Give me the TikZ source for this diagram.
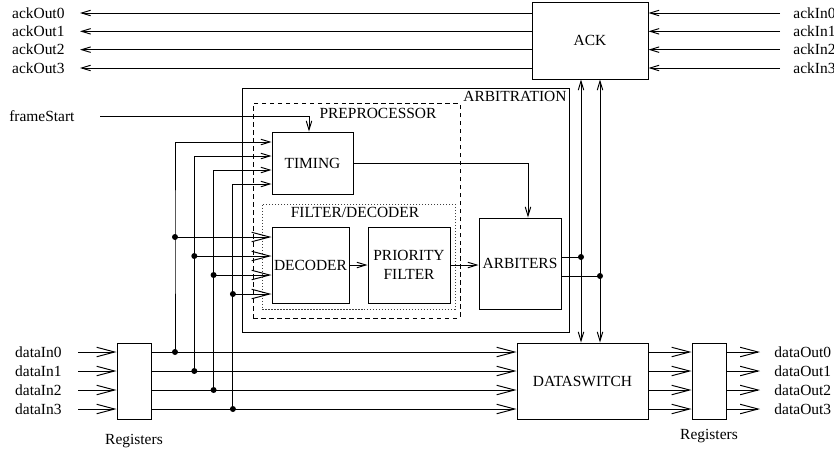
\documentclass[tikz,border=0pt]{standalone}
\usepackage{fontspec}
\setmainfont{Liberation Serif}
\usetikzlibrary{arrows.meta,positioning,calc}

\begin{document}
\begin{tikzpicture}[x=0.02cm,y=-0.02cm,
  font=\fontsize{8.8}{10.8}\selectfont,
  line width=0.55pt,node distance=0pt,
  blk/.style={draw,inner sep=0pt},
  sarr/.style={-{Straight Barb[length=0.18cm,width=0.11cm]}},
  barr/.style={-{Straight Barb[length=0.36cm,width=0.19cm]}},
  lbl/.style={inner sep=0pt},
  jn/.style={circle,fill,inner sep=0pt,minimum size=0.12cm}]
\useasboundingbox (0,0) rectangle (834,451);
% frames
\node[blk,minimum width=6.56cm,minimum height=4.88cm] (arb) at (406,210) {};
\node[blk,dash pattern=on 0.09cm off 0.07cm,minimum width=4.14cm,minimum height=4.30cm] (prep) at (356.5,210.5) {};
\node[blk,black!75,dash pattern=on 0.03cm off 0.03cm,minimum width=3.86cm,minimum height=2.10cm] (filt) at (358.5,256.5) {};
\node[lbl,anchor=north east,inner sep=0.07cm] at (arb.north east) {ARBITRATION};
\node[lbl,below=0.1cm of prep.north,xshift=0.43cm] {PREPROCESSOR};
\node[lbl,below=0.07cm of filt.north,xshift=-0.07cm] {FILTER/DECODER};
% blocks
\node[blk,minimum width=2.32cm,minimum height=1.54cm] (ack) at (590,40.5) {ACK};
\node[blk,minimum width=1.62cm,minimum height=1.24cm] (timing) at (312.5,163) {TIMING};
\node[blk,minimum width=1.54cm,minimum height=1.52cm] (decoder) at (310.5,265) {DECODER};
\node[blk,align=center,minimum width=1.64cm,minimum height=1.52cm] (prio) at (409,265) {PRIORITY\\FILTER};
\node[blk,minimum width=1.64cm,minimum height=1.82cm] (arbiters) at (520,263.5) {ARBITERS};
\node[blk,minimum width=2.62cm,minimum height=1.52cm] (dsw) at (582.5,381) {DATASWITCH};
\node[blk,minimum width=0.68cm,minimum height=1.52cm] (regin) at (134,381) {};
\node[blk,minimum width=0.68cm,minimum height=1.52cm] (regout) at (709,381) {};
\node[lbl,below=0.28cm of regin] {Registers};
\node[lbl,below=0.18cm of regout] {Registers};
% ack lines
\foreach \i in {0,...,3}{
  \pgfmathsetmacro{\ya}{13+18.33*\i}
  \coordinate (ao\i) at (80,\ya);
  \coordinate (ai\i) at (780,\ya);
  \node[lbl,left=0.3cm of ao\i] {ackOut\i};
  \node[lbl,right=0.26cm of ai\i] {ackIn\i};
  \draw[sarr] (ack.west |- ao\i) -- (ao\i);
  \draw[sarr] (ai\i) -- (ack.east |- ai\i);
}
% data lines and taps
\foreach \i in {0,...,3}{
  \pgfmathsetmacro{\yd}{352+19*\i}
  \pgfmathsetmacro{\xd}{175+19.3*\i}
  \pgfmathsetmacro{\yt}{142+14*\i}
  \pgfmathsetmacro{\yc}{237+19*\i}
  \coordinate (di\i) at (78,\yd);
  \coordinate (do\i) at (760,\yd);
  \coordinate (ty\i) at (0,\yt);
  \node[lbl,left=0.32cm of di\i] {dataIn\i};
  \node[lbl,right=0.28cm of do\i] {dataOut\i};
  \draw[barr] (di\i) -- (regin.west |- di\i);
  \draw[barr] (regin.east |- di\i) -- (dsw.west |- di\i);
  \draw[barr] (dsw.east |- di\i) -- (regout.west |- di\i);
  \draw[barr] (regout.east |- di\i) -- (do\i);
  \node[jn] (tap\i) at (\xd,\yd) {};
  \node[jn] (dtap\i) at (\xd,\yc) {};
  \draw[sarr] (tap\i.center) -- (dtap\i.center) |- (timing.west |- ty\i);
  \draw[barr] (dtap\i.center) -- (decoder.west |- dtap\i);
}
% frame start and internal paths
\coordinate (fs) at (100,116);
\node[lbl,left=0.5cm of fs] {frameStart};
\draw[sarr] (fs) -| ([xshift=-0.07cm]timing.north);
\draw[sarr] (timing.east) -| ([xshift=0.16cm]arbiters.north);
\draw[sarr] (decoder.east) -- (prio.west);
\draw[sarr] (prio.east) -- (arbiters.west |- prio.east);
% arbiter outputs to ack and dataswitch
\node[jn] (bus0) at (581,257) {};
\node[jn] (bus1) at (600,276) {};
\foreach \b in {bus0,bus1}{
  \draw (arbiters.east |- \b) -- (\b.center);
  \draw[sarr] (\b.center) -- (ack.south -| \b);
  \draw[sarr] (\b.center) -- (dsw.north -| \b);
}
\end{tikzpicture}
\end{document}
